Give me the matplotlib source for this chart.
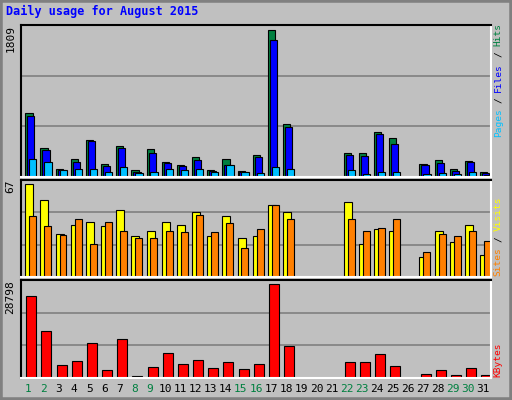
import numpy as np
import matplotlib.pyplot as plt
from matplotlib.patches import Rectangle

days = np.arange(1, 32)
hits = [766, 349, 99, 218, 445, 159, 373, 87, 337, 183, 147, 242, 87, 218, 75, 266,
        1755, 635, 0, 0, 0, 290, 290, 540, 468, 0, 159, 206, 99, 195, 64]
files = [730, 325, 87, 183, 433, 135, 349, 64, 290, 171, 135, 206, 75, 147, 64, 242,
         1636, 600, 0, 0, 0, 266, 254, 516, 397, 0, 147, 171, 75, 183, 52]
pages = [218, 183, 87, 99, 99, 64, 123, 52, 64, 99, 87, 99, 64, 145, 64, 52,
         123, 99, 0, 0, 0, 87, 40, 64, 64, 0, 40, 52, 40, 64, 28]
sites = [64, 53, 30, 36, 38, 35, 46, 28, 32, 38, 36, 45, 28, 42, 27, 28,
         50, 45, 0, 0, 0, 52, 23, 33, 32, 0, 14, 32, 24, 36, 15]
visits = [42, 35, 29, 40, 23, 38, 32, 27, 27, 32, 31, 43, 31, 37, 20, 33,
          50, 40, 0, 0, 0, 40, 32, 34, 40, 0, 17, 30, 28, 32, 25]
kbytes = [23966, 13695, 3726, 4934, 10372, 2215, 11580, 705, 3122, 7351, 4028, 5236,
          2820, 4632, 2518, 4028, 27592, 9466, 0, 0, 0, 4632, 4632, 7049, 3424, 0,
          1309, 2215, 1007, 2820, 1007]
weekend = [1, 2, 8, 9, 15, 16, 22, 23, 29, 30]
max_hits, max_sites, max_kb = 1809, 67, 28798

BG = '#C0C0C0'
MONO = 'DejaVu Sans Mono'

fig = plt.figure(figsize=(5.12, 4.0), dpi=100, facecolor=BG)
fig.patches.append(Rectangle((0, 0), 1, 1, transform=fig.transFigure, fill=False,
                             edgecolor='#808080', linewidth=4))

def panel(rect, ymax):
    ax = fig.add_axes(rect)
    ax.set_facecolor(BG)
    ax.set_xlim(0.5, 31.5)
    ax.set_ylim(0, ymax)
    for g in (ymax / 3, ymax * 2 / 3):
        ax.axhline(g, color='#808080', linewidth=1.2, zorder=0)
    ax.set_xticks([])
    ax.set_yticks([])
    for s in ('top', 'left'):
        ax.spines[s].set_color('black')
    for s in ('bottom', 'right'):
        ax.spines[s].set_color('white')
    for s in ax.spines.values():
        s.set_linewidth(1.5)
    ax.text(-0.012, 1.0, str(ymax), transform=ax.transAxes, rotation=90,
            ha='right', va='top', fontsize=8, family=MONO)
    return ax

def bars(ax, vals, off, width, color):
    d = [x for x, v in zip(days, vals) if v > 0]
    v = [v for v in vals if v > 0]
    ax.bar(np.array(d) + off, v, width=width, align='edge', color=color,
           edgecolor='black', linewidth=0.8)

def side_label(y0, parts):
    # rotated label built from coloured pieces, bottom to top, one char slot each
    fs = 6.8
    adv = 0.602 * fs * 100 / 72 / 400
    y = y0
    for txt, col in parts:
        n = len(txt)
        fig.text(0.973, y + n * adv / 2, txt.strip(), rotation=90, ha='center',
                 va='center', color=col, fontsize=fs, family=MONO)
        y += n * adv

ax1 = panel([0.041, 0.5575, 0.918, 0.38], max_hits)
bars(ax1, hits, -0.22, 0.48, '#008040')
bars(ax1, files, -0.09, 0.48, '#0000FF')
bars(ax1, pages, 0.04, 0.48, '#00C0FF')

ax2 = panel([0.041, 0.3075, 0.918, 0.2425], max_sites)
bars(ax2, sites, -0.22, 0.53, '#FFFF00')
bars(ax2, visits, 0.04, 0.46, '#FF8000')

ax3 = panel([0.041, 0.055, 0.918, 0.245], max_kb)
bars(ax3, kbytes, -0.15, 0.66, '#FF0000')

for d in days:
    ax3.text(d, -0.06, str(d), transform=ax3.get_xaxis_transform(), ha='center',
             va='top', fontsize=8, family=MONO,
             color='#008040' if d in weekend else 'black')

fig.text(0.012, 0.972, 'Daily usage for August 2015', color='#0000FF',
         fontsize=8.5, fontweight='bold', family=MONO, va='center')

side_label(1 - 137 / 400, [('Pages', '#00C0FF'), (' / ', '#000000'),
                           ('Files', '#0000FF'), (' / ', '#000000'), ('Hits', '#008040')])
side_label(1 - 276 / 400, [('Sites', '#FF8000'), (' / ', '#000000'), ('Visits', '#FFFF00')])
side_label(1 - 377 / 400, [('KBytes', '#FF0000')])

fig.savefig('out.png', dpi=100, facecolor=BG)
